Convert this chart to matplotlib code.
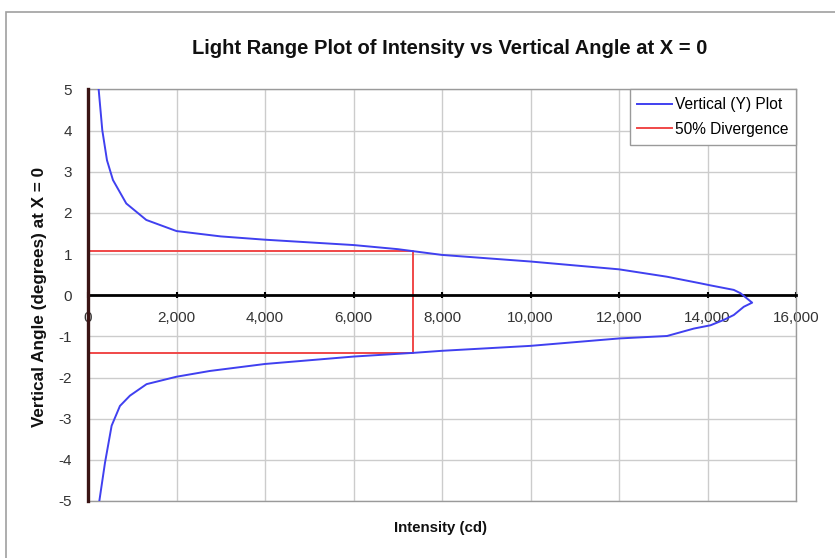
import matplotlib
matplotlib.use("Agg")
import matplotlib.pyplot as plt
from matplotlib.patches import Rectangle

plt.rcParams['font.family'] = ['Liberation Sans', 'DejaVu Sans']

# Vertical (Y) plot: intensity (cd) vs vertical angle (degrees)
intensity = [241, 323, 429, 564, 865, 1317, 2000, 3000, 4000, 6000, 7000, 8000,
             10000, 12000, 13086, 13840, 14067, 14594, 14745, 15009, 14820,
             14594, 14367, 14067, 13690, 13086, 12000, 10000, 8000, 7353,
             6000, 4000, 2754, 2000, 1324, 948, 722, 534, 384, 256]
angle = [5.0, 4.01, 3.28, 2.8, 2.23, 1.83, 1.56, 1.43, 1.35, 1.22, 1.12, 0.98,
         0.82, 0.63, 0.45, 0.29, 0.24, 0.13, 0.05, -0.18, -0.28,
         -0.48, -0.6, -0.73, -0.81, -0.99, -1.05, -1.23, -1.35, -1.40,
         -1.49, -1.67, -1.84, -1.98, -2.16, -2.44, -2.69, -3.17, -4.07, -5.0]

# 50% divergence box
div_x = [0, 7353, 7353, 0]
div_y = [1.08, 1.08, -1.41, -1.41]

xticks = [0, 2000, 4000, 6000, 8000, 10000, 12000, 14000, 16000]
yticks = [-5, -4, -3, -2, -1, 0, 1, 2, 3, 4, 5]

fig = plt.figure(figsize=(8.35, 5.58), dpi=100)
# outer chart frame
fig.patches.append(Rectangle((6/835, -0.01), 1.0, 1 - 12/558 + 0.01, transform=fig.transFigure,
                             fill=False, edgecolor='#a0a0a0', linewidth=1.2))

ax = fig.add_axes([88/835, 1 - 501/558, (796 - 88)/835, (501 - 89.5)/558])
ax.set_xlim(0, 16000)
ax.set_ylim(-5, 5)
ax.set_xticks(xticks)
ax.set_yticks(yticks)
ax.grid(True, color='#cccccc', linewidth=1.0)
ax.set_axisbelow(True)
for s in ax.spines.values():
    s.set_color('#9a9a9a')
    s.set_linewidth(1.0)
ax.spines['bottom'].set_position(('data', 0))
ax.spines['bottom'].set_color('black')
ax.spines['bottom'].set_linewidth(2.0)
ax.spines['bottom'].set_zorder(3.5)
ax.axhline(-5, color='#9a9a9a', linewidth=1.0, clip_on=False, zorder=2)

ax.set_xticklabels([f"{v:,}" for v in xticks])
ax.tick_params(axis='x', direction='inout', length=5, width=1.5, color='black',
               labelsize=11, labelcolor='#333333', pad=9)
ax.tick_params(axis='y', left=False, labelsize=11, labelcolor='#333333', pad=8)
ax.set_yticklabels([str(v) for v in yticks])

ax.plot(intensity, angle, color='#4040f0', linewidth=1.4, label='Vertical (Y) Plot', zorder=4)
ax.plot(div_x, div_y, color='#f04848', linewidth=1.4, label='50% Divergence', zorder=3)
ax.plot([0, 0], [-5, 5], color='#3a1414', linewidth=2.4, zorder=5, clip_on=False)

leg = ax.legend(loc='upper right', bbox_to_anchor=(1.0, 1.0), fontsize=11.2,
                frameon=True, fancybox=False, framealpha=1, edgecolor='#9a9a9a',
                handlelength=2.2, handletextpad=0.2, borderpad=0.5, labelspacing=0.62,
                borderaxespad=0)
leg.get_frame().set_linewidth(1.0)
leg.set_zorder(6)

fig.text(450/835, 1 - 49/558, 'Light Range Plot of Intensity vs Vertical Angle at X = 0',
         ha='center', va='center', fontsize=14.5, fontweight='bold', color='#111111')
fig.text(440/835, 1 - 528/558, 'Intensity (cd)', ha='center', va='center',
         fontsize=10.8, fontweight='bold', color='#111111')
fig.text(40/835, 1 - 297/558, 'Vertical Angle (degrees) at X = 0', ha='center', va='center',
         rotation=90, fontsize=12.3, fontweight='bold', color='#111111')

fig.savefig('out.png', dpi=100)
